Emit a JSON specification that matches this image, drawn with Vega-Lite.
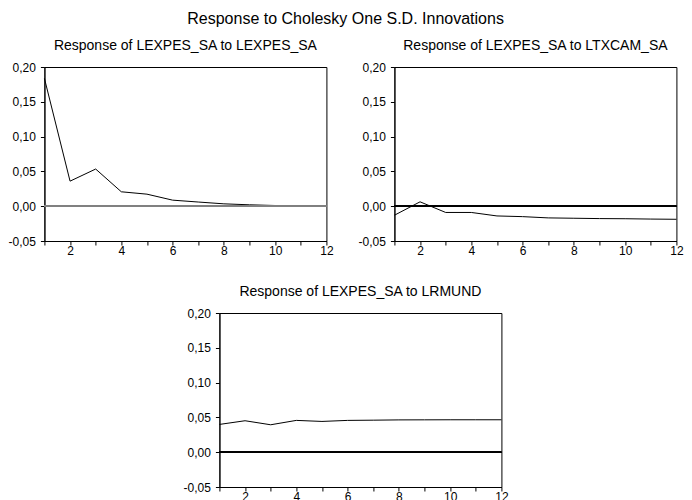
{
  "$schema": "https://vega.github.io/schema/vega-lite/v6.json",
  "padding": {"left": 7, "top": 10, "right": 0, "bottom": 0},
  "config": {
    "font": "Liberation Sans",
    "view": {"stroke": "#000", "strokeWidth": 1},
    "axis": {"grid": false, "domainColor": "#000", "tickColor": "#000", "labelColor": "#000", "labelFont": "Liberation Sans", "labelFontSize": 12, "tickSize": 4, "labelOverlap": false, "labelFlush": false, "title": null},
    "axisX": {"labelPadding": 0},
    "axisY": {"labelPadding": 5},
    "title": {"font": "Liberation Sans", "fontWeight": "normal", "color": "#000"}
  },
  "title": {"text": "Response to Cholesky One S.D. Innovations", "fontSize": 16, "anchor": "middle", "offset": 12},
  "datasets": {
    "irf": [
      {"shock": "LEXPES_SA", "period": 1, "value": 0.1837},
      {"shock": "LEXPES_SA", "period": 2, "value": 0.036},
      {"shock": "LEXPES_SA", "period": 3, "value": 0.0534},
      {"shock": "LEXPES_SA", "period": 4, "value": 0.0207},
      {"shock": "LEXPES_SA", "period": 5, "value": 0.0173},
      {"shock": "LEXPES_SA", "period": 6, "value": 0.0087},
      {"shock": "LEXPES_SA", "period": 7, "value": 0.006},
      {"shock": "LEXPES_SA", "period": 8, "value": 0.0034},
      {"shock": "LEXPES_SA", "period": 9, "value": 0.002},
      {"shock": "LEXPES_SA", "period": 10, "value": 0.001},
      {"shock": "LEXPES_SA", "period": 11, "value": 0.0005},
      {"shock": "LEXPES_SA", "period": 12, "value": 0.0002},
      {"shock": "LTXCAM_SA", "period": 1, "value": -0.013},
      {"shock": "LTXCAM_SA", "period": 2, "value": 0.0063},
      {"shock": "LTXCAM_SA", "period": 3, "value": -0.009},
      {"shock": "LTXCAM_SA", "period": 4, "value": -0.009},
      {"shock": "LTXCAM_SA", "period": 5, "value": -0.014},
      {"shock": "LTXCAM_SA", "period": 6, "value": -0.015},
      {"shock": "LTXCAM_SA", "period": 7, "value": -0.0168},
      {"shock": "LTXCAM_SA", "period": 8, "value": -0.0173},
      {"shock": "LTXCAM_SA", "period": 9, "value": -0.0178},
      {"shock": "LTXCAM_SA", "period": 10, "value": -0.018},
      {"shock": "LTXCAM_SA", "period": 11, "value": -0.0185},
      {"shock": "LTXCAM_SA", "period": 12, "value": -0.0188},
      {"shock": "LRMUND", "period": 1, "value": 0.0399},
      {"shock": "LRMUND", "period": 2, "value": 0.0452},
      {"shock": "LRMUND", "period": 3, "value": 0.0394},
      {"shock": "LRMUND", "period": 4, "value": 0.0457},
      {"shock": "LRMUND", "period": 5, "value": 0.0442},
      {"shock": "LRMUND", "period": 6, "value": 0.0457},
      {"shock": "LRMUND", "period": 7, "value": 0.046},
      {"shock": "LRMUND", "period": 8, "value": 0.0464},
      {"shock": "LRMUND", "period": 9, "value": 0.0465},
      {"shock": "LRMUND", "period": 10, "value": 0.0466},
      {"shock": "LRMUND", "period": 11, "value": 0.0466},
      {"shock": "LRMUND", "period": 12, "value": 0.0466}
    ]
  },
  "vconcat": [
    {
      "spacing": 23,
      "hconcat": [
        {
          "title": {"text": "Response of LEXPES_SA to LEXPES_SA", "fontSize": 14, "baseline": "bottom", "offset": -6},
          "width": 282, "height": 174,
          "data": {"name": "irf"},
          "transform": [{"filter": "datum.shock == 'LEXPES_SA'"}],
          "layer": [
            {"mark": {"type": "line", "color": "#000", "strokeWidth": 1},
             "encoding": {
               "x": {"field": "period", "type": "quantitative", "scale": {"domain": [1, 12], "nice": false, "zero": false}, "axis": {"values": [1,2,3,4,5,6,7,8,9,10,11,12], "labelExpr": "datum.value % 2 == 0 ? datum.label : ''", "labelFlush": false, "labelOverlap": false}},
               "y": {"field": "value", "type": "quantitative", "scale": {"domain": [-0.05, 0.2], "nice": false, "zero": false}, "axis": {"values": [-0.05, 0, 0.05, 0.1, 0.15, 0.2], "labelExpr": "replace(replace(format(datum.value, '.2f'), '.', ','), '−', '-')", "labelFlush": false, "labelOverlap": false}}
             }},
            {"mark": {"type": "rule", "color": "#808080", "strokeWidth": 1.5}, "encoding": {"y": {"datum": 0, "type": "quantitative", "scale": {"domain": [-0.05, 0.2], "nice": false, "zero": false}, "axis": {"values": [-0.05, 0, 0.05, 0.1, 0.15, 0.2], "labelExpr": "replace(replace(format(datum.value, '.2f'), '.', ','), '−', '-')", "labelFlush": false, "labelOverlap": false}}}}
          ]
        },
        {
          "title": {"text": "Response of LEXPES_SA to LTXCAM_SA", "fontSize": 14, "baseline": "bottom", "offset": -6},
          "width": 282, "height": 174,
          "data": {"name": "irf"},
          "transform": [{"filter": "datum.shock == 'LTXCAM_SA'"}],
          "layer": [
            {"mark": {"type": "line", "color": "#000", "strokeWidth": 1},
             "encoding": {
               "x": {"field": "period", "type": "quantitative", "scale": {"domain": [1, 12], "nice": false, "zero": false}, "axis": {"values": [1,2,3,4,5,6,7,8,9,10,11,12], "labelExpr": "datum.value % 2 == 0 ? datum.label : ''", "labelFlush": false, "labelOverlap": false}},
               "y": {"field": "value", "type": "quantitative", "scale": {"domain": [-0.05, 0.2], "nice": false, "zero": false}, "axis": {"values": [-0.05, 0, 0.05, 0.1, 0.15, 0.2], "labelExpr": "replace(replace(format(datum.value, '.2f'), '.', ','), '−', '-')", "labelFlush": false, "labelOverlap": false}}
             }},
            {"mark": {"type": "rule", "color": "#000", "strokeWidth": 1}, "encoding": {"y": {"datum": 0, "type": "quantitative", "scale": {"domain": [-0.05, 0.2], "nice": false, "zero": false}, "axis": {"values": [-0.05, 0, 0.05, 0.1, 0.15, 0.2], "labelExpr": "replace(replace(format(datum.value, '.2f'), '.', ','), '−', '-')", "labelFlush": false, "labelOverlap": false}}}}
          ]
        }
      ]
    },
    {
      "title": {"text": "Response of LEXPES_SA to LRMUND", "fontSize": 14, "baseline": "bottom", "offset": -6},
      "width": 282, "height": 174,
      "data": {"name": "irf"},
      "transform": [{"filter": "datum.shock == 'LRMUND'"}],
      "layer": [
        {"mark": {"type": "line", "color": "#000", "strokeWidth": 1},
         "encoding": {
           "x": {"field": "period", "type": "quantitative", "scale": {"domain": [1, 12], "nice": false, "zero": false}, "axis": {"values": [1,2,3,4,5,6,7,8,9,10,11,12], "labelExpr": "datum.value % 2 == 0 ? datum.label : ''", "labelFlush": false, "labelOverlap": false}},
           "y": {"field": "value", "type": "quantitative", "scale": {"domain": [-0.05, 0.2], "nice": false, "zero": false}, "axis": {"values": [-0.05, 0, 0.05, 0.1, 0.15, 0.2], "labelExpr": "replace(replace(format(datum.value, '.2f'), '.', ','), '−', '-')", "labelFlush": false, "labelOverlap": false}}
         }},
        {"mark": {"type": "rule", "color": "#000", "strokeWidth": 1}, "encoding": {"y": {"datum": 0, "type": "quantitative", "scale": {"domain": [-0.05, 0.2], "nice": false, "zero": false}, "axis": {"values": [-0.05, 0, 0.05, 0.1, 0.15, 0.2], "labelExpr": "replace(replace(format(datum.value, '.2f'), '.', ','), '−', '-')", "labelFlush": false, "labelOverlap": false}}}}
      ]
    }
  ],
  "spacing": 27,
  "center": true
}
